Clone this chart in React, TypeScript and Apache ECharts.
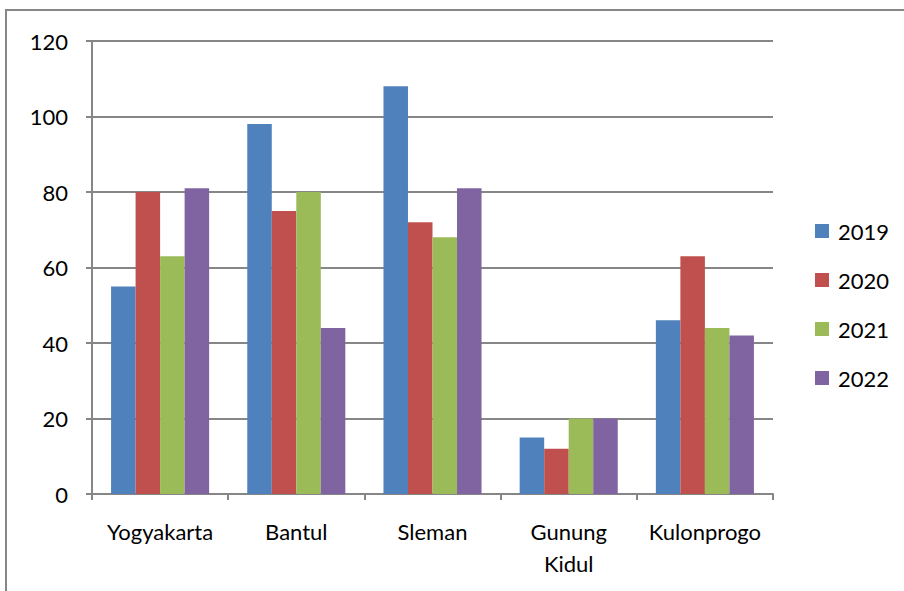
import React, { useEffect, useRef } from "react";
import * as echarts from "echarts";

const categories = ["Yogyakarta", "Bantul", "Sleman", "Gunung\nKidul", "Kulonprogo"];
const seriesNames = ["2019", "2020", "2021", "2022"];
const v2019 = [55, 98, 108, 15, 46];
const v2020 = [80, 75, 72, 12, 63];
const v2021 = [63, 80, 68, 20, 44];
const v2022 = [81, 44, 81, 20, 42];
const colors = ["#4F81BD", "#C0504D", "#9BBB59", "#8064A2"];

const FONT = "Lato, 'Liberation Sans', sans-serif";
const AXIS = "#868686";

export default function App() {
  const ref = useRef<HTMLDivElement>(null);
  useEffect(() => {
    if (!ref.current) return;
    const chart = echarts.init(ref.current, null, { renderer: "svg" });
    const values = [v2019, v2020, v2021, v2022];
    chart.setOption({
      animation: false,
      backgroundColor: "#ffffff",
      textStyle: { fontFamily: FONT },
      graphic: [
        {
          type: "rect",
          shape: { x: 6, y: 10, width: 1000, height: 1000 },
          style: { fill: "none", stroke: AXIS, lineWidth: 2 },
          silent: true,
        },
      ],
      grid: { left: 92, right: 131, top: 41, bottom: 97, containLabel: false },
      legend: {
        orient: "vertical",
        left: 815,
        top: 220,
        padding: 0,
        itemWidth: 14,
        itemHeight: 14,
        itemGap: 27,
        icon: "rect",
        data: seriesNames,
        textStyle: { fontSize: 22, color: "#000", fontFamily: FONT, padding: [0, 0, 0, 4] },
      },
      xAxis: {
        type: "category",
        data: categories,
        axisLine: { show: true, lineStyle: { color: AXIS, width: 2 } },
        axisTick: { show: true, length: 6, interval: 0, alignWithLabel: false, lineStyle: { color: AXIS, width: 2 } },
        axisLabel: { fontSize: 22, color: "#000", fontFamily: FONT, margin: 21, lineHeight: 32, interval: 0 },
        splitLine: { show: false },
      },
      yAxis: {
        type: "value",
        min: 0,
        max: 120,
        interval: 20,
        axisLine: { show: true, lineStyle: { color: AXIS, width: 2 } },
        axisTick: { show: true, length: 6, lineStyle: { color: AXIS, width: 2 } },
        axisLabel: { fontSize: 22, color: "#000", fontFamily: FONT, margin: 24 },
        splitLine: { show: true, lineStyle: { color: AXIS, width: 2 } },
      },
      series: seriesNames.map((name, i) => ({
        name,
        type: "bar",
        data: values[i],
        itemStyle: { color: colors[i] },
        barGap: "0%",
        barCategoryGap: "28%",
      })),
    });
    return () => chart.dispose();
  }, []);
  return (
    <div
      ref={ref}
      style={{ position: "fixed", left: 0, top: 0, width: 904, height: 591 }}
    />
  );
}
